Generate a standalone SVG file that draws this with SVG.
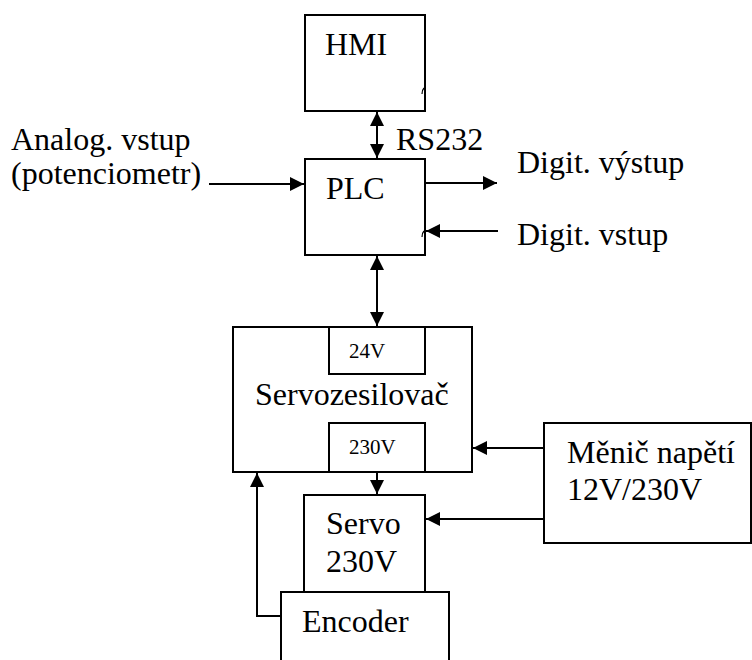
<svg xmlns="http://www.w3.org/2000/svg" width="752" height="660" viewBox="0 0 752 660" font-family="'Liberation Serif', 'Times New Roman', 'DejaVu Serif', serif">
<style>
.box{fill:#fff;stroke:#000;stroke-width:2}
text{font-family:'Liberation Serif','Times New Roman','DejaVu Serif',serif;fill:#000}
.t{font-size:32px}
.s{font-size:21px}
.c{stroke:#000;stroke-width:2;fill:none}
.tick{stroke:#000;stroke-width:1.2;fill:none}
</style>
<defs>
<marker id="ah" markerUnits="userSpaceOnUse" markerWidth="15" markerHeight="15" refX="14" refY="7" orient="auto-start-reverse" viewBox="0 0 15 14">
<path d="M0,0 L14,7 L0,14 z" fill="#000"/>
</marker>
</defs>
<rect width="752" height="660" fill="#fff"/>
<g id="connectors">
<line class="c" x1="377" y1="112" x2="377" y2="158" marker-start="url(#ah)" marker-end="url(#ah)"/>
<line class="c" x1="377" y1="256" x2="377" y2="326" marker-start="url(#ah)" marker-end="url(#ah)"/>
<line class="c" x1="209" y1="184" x2="304" y2="184" marker-end="url(#ah)"/>
<line class="c" x1="425" y1="183" x2="497" y2="183" marker-end="url(#ah)"/>
<line class="c" x1="498" y1="231" x2="426" y2="231" marker-end="url(#ah)"/>
<line class="c" x1="377" y1="472" x2="377" y2="494" marker-end="url(#ah)"/>
<polyline class="c" points="281,616 257,616 257,473" marker-end="url(#ah)"/>
<line class="c" x1="544" y1="448" x2="473" y2="448" marker-end="url(#ah)"/>
<line class="c" x1="544" y1="519" x2="426" y2="519" marker-end="url(#ah)"/>
</g>
<g id="hmi">
<rect class="box" x="305" y="15" width="120" height="96"/>
<text class="t" x="325" y="55">HMI</text>
<path class="tick" d="M424,88 q-2,2 -2,6"/>
</g>
<g id="rs232-label">
<text class="t" x="396" y="150">RS232</text>
</g>
<g id="plc">
<rect class="box" x="305" y="159" width="120" height="96"/>
<text class="t" x="326" y="199">PLC</text>
<path class="tick" d="M424,231 q-2,2 -2,6"/>
</g>
<g id="analog">
<text class="t" x="11" y="150">Analog. vstup</text>
<text class="t" x="11" y="184">(potenciometr)</text>
</g>
<g id="digit-out">
<text class="t" x="517" y="173">Digit. výstup</text>
</g>
<g id="digit-in">
<text class="t" x="517" y="245">Digit. vstup</text>
</g>
<g id="servozesilovac">
<rect class="box" x="233" y="327" width="239" height="145"/>
<text class="t" x="255" y="405">Servozesilovač</text>
</g>
<g id="v24">
<rect class="box" x="329" y="327" width="96" height="47"/>
<text class="s" x="349" y="358">24V</text>
</g>
<g id="v230">
<rect class="box" x="329" y="423" width="96" height="49"/>
<text class="s" x="349" y="454">230V</text>
</g>
<g id="servo">
<rect class="box" x="304" y="495" width="121" height="97"/>
<text class="t" x="326" y="534">Servo</text>
<text class="t" x="326" y="572">230V</text>
</g>
<g id="encoder">
<path class="box" d="M281,662 V592 H449 V662"/>
<text class="t" x="302" y="632">Encoder</text>
</g>
<g id="menic">
<rect class="box" x="544" y="423" width="207" height="120"/>
<text class="t" x="567" y="463">Měnič napětí</text>
<text class="t" x="567" y="500">12V/230V</text>
</g>
</svg>
